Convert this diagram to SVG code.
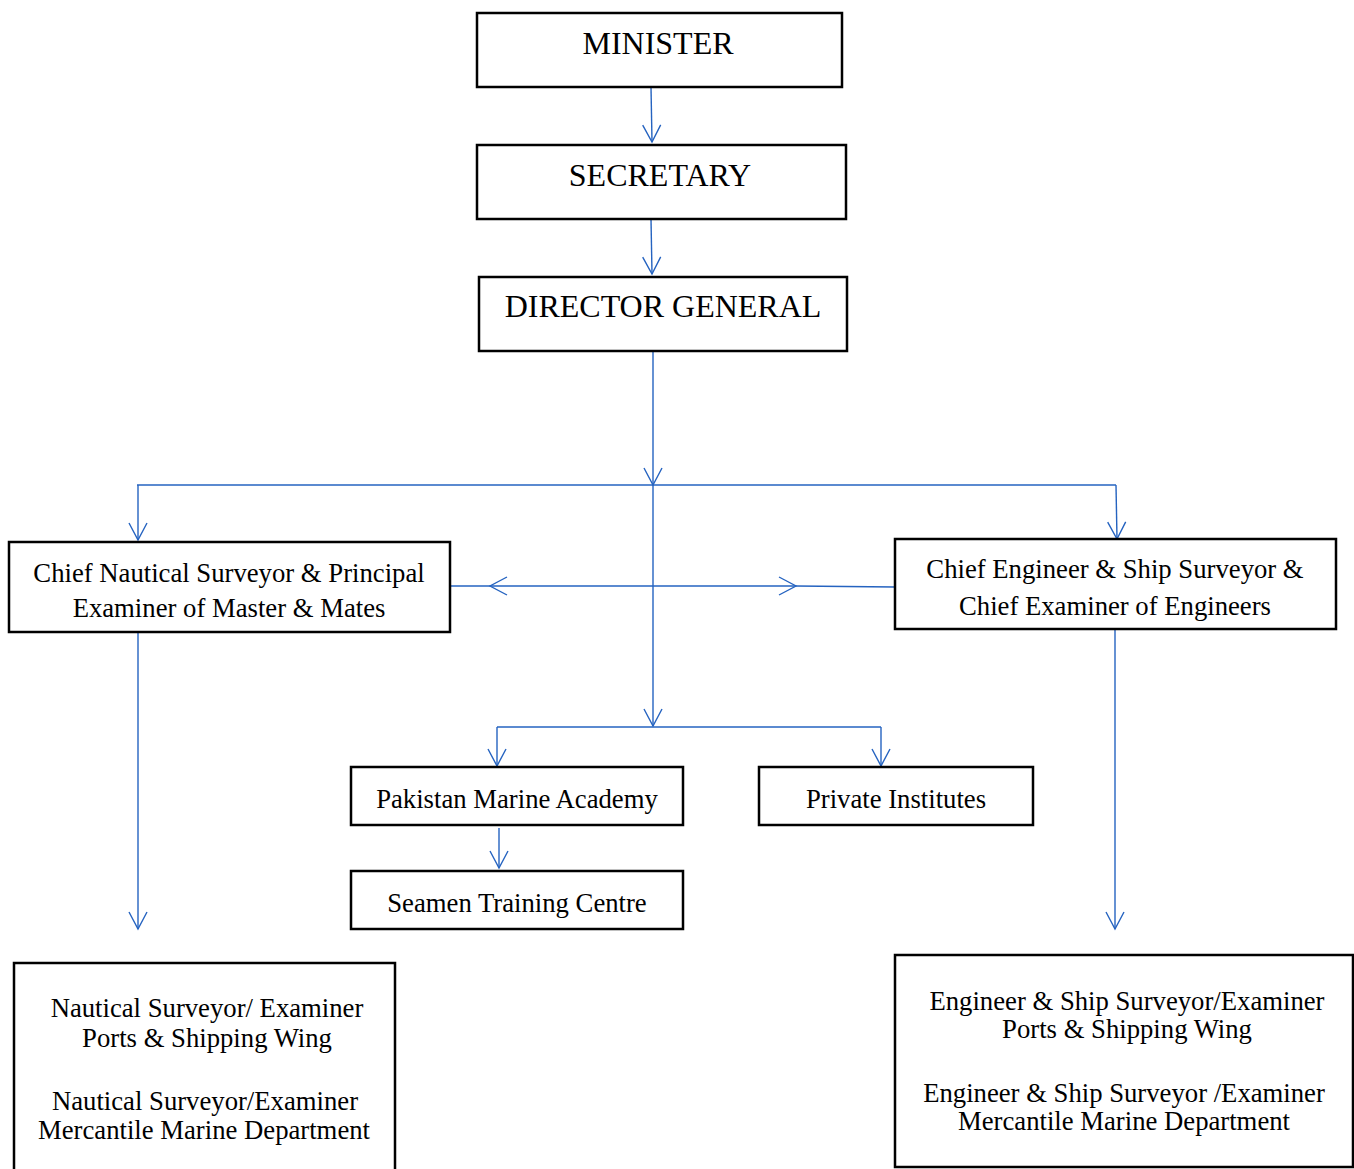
<svg xmlns="http://www.w3.org/2000/svg" width="1354" height="1169" viewBox="0 0 1354 1169">
<style>
.box{fill:#fff;stroke:#000;stroke-width:2.5}
.t{font-family:"Liberation Serif","Times New Roman",serif;fill:#000;text-anchor:middle}
.big{font-size:32px}
.mid{font-size:26.7px}
.c{fill:none;stroke:#2563c0;stroke-width:1.4}
</style>
<defs>
<marker id="ah" viewBox="-19 -11 21 22" refX="0" refY="0" markerWidth="21" markerHeight="22" markerUnits="userSpaceOnUse" orient="auto">
<path d="M-17,-9 L0,0 L-17,9" fill="none" stroke="#2563c0" stroke-width="1.4"/>
</marker>
</defs>
<rect width="1354" height="1169" fill="#fff"/>
<g id="connectors">
<path class="c" d="M651,87 L652,142" marker-end="url(#ah)"/>
<path class="c" d="M651,219 L652,274" marker-end="url(#ah)"/>
<path class="c" d="M653,351 L653,485" marker-end="url(#ah)"/>
<path class="c" d="M653,485 L653,726" marker-end="url(#ah)"/>
<path class="c" d="M137,485 L1116,485"/>
<path class="c" d="M138,485 L138,540" marker-end="url(#ah)"/>
<path class="c" d="M1116,485 L1117,539" marker-end="url(#ah)"/>
<path class="c" d="M653,586 L490,586" marker-end="url(#ah)"/>
<path class="c" d="M490,586 L447,586"/>
<path class="c" d="M653,586 L796,586" marker-end="url(#ah)"/>
<path class="c" d="M796,586 L895,587"/>
<path class="c" d="M138,632 L138,929" marker-end="url(#ah)"/>
<path class="c" d="M1115,629 L1115,929" marker-end="url(#ah)"/>
<path class="c" d="M497,727 L881,727"/>
<path class="c" d="M497,727 L497,766" marker-end="url(#ah)"/>
<path class="c" d="M881,727 L881,766" marker-end="url(#ah)"/>
<path class="c" d="M499,828 L499,868" marker-end="url(#ah)"/>
</g>
<g id="minister">
<rect class="box" x="477" y="13" width="365" height="74"/>
<text class="t big" x="658" y="54">MINISTER</text>
</g>
<g id="secretary">
<rect class="box" x="477" y="145" width="369" height="74"/>
<text class="t big" x="660" y="186">SECRETARY</text>
</g>
<g id="director-general">
<rect class="box" x="479" y="277" width="368" height="74"/>
<text class="t big" x="663" y="317">DIRECTOR GENERAL</text>
</g>
<g id="chief-nautical">
<rect class="box" x="9" y="542" width="441" height="90"/>
<text class="t mid" x="229" y="582">Chief Nautical Surveyor &amp; Principal</text>
<text class="t mid" x="229" y="617">Examiner of Master &amp; Mates</text>
</g>
<g id="chief-engineer">
<rect class="box" x="895" y="539" width="441" height="90"/>
<text class="t mid" x="1115" y="578">Chief Engineer &amp; Ship Surveyor &amp;</text>
<text class="t mid" x="1115" y="615">Chief Examiner of Engineers</text>
</g>
<g id="pakistan-marine-academy">
<rect class="box" x="351" y="767" width="332" height="58"/>
<text class="t mid" x="517" y="808">Pakistan Marine Academy</text>
</g>
<g id="private-institutes">
<rect class="box" x="759" y="767" width="274" height="58"/>
<text class="t mid" x="896" y="808">Private Institutes</text>
</g>
<g id="seamen-training-centre">
<rect class="box" x="351" y="871" width="332" height="58"/>
<text class="t mid" x="517" y="912">Seamen Training Centre</text>
</g>
<g id="nautical-surveyors">
<rect class="box" x="14" y="963" width="381" height="212"/>
<text class="t mid" x="207" y="1017">Nautical Surveyor/ Examiner</text>
<text class="t mid" x="207" y="1047">Ports &amp; Shipping Wing</text>
<text class="t mid" x="205" y="1110">Nautical Surveyor/Examiner</text>
<text class="t mid" x="204" y="1139">Mercantile Marine Department</text>
</g>
<g id="engineer-surveyors">
<rect class="box" x="895" y="955" width="458" height="212"/>
<text class="t mid" x="1127" y="1010">Engineer &amp; Ship Surveyor/Examiner</text>
<text class="t mid" x="1127" y="1038">Ports &amp; Shipping Wing</text>
<text class="t mid" x="1124" y="1102">Engineer &amp; Ship Surveyor /Examiner</text>
<text class="t mid" x="1124" y="1130">Mercantile Marine Department</text>
</g>
</svg>
